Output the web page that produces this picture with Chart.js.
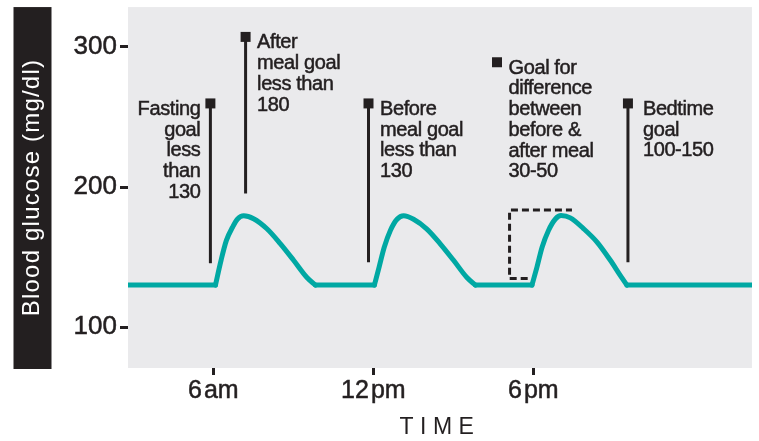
<!DOCTYPE html>
<html>
<head>
<meta charset="utf-8">
<script src="https://cdn.jsdelivr.net/npm/chart.js@4/dist/chart.umd.min.js"></script>
<style>
  html, body { margin: 0; padding: 0; background: #ffffff; }
  #wrap { width: 759px; height: 441px; }
</style>
</head>
<body>
<div id="wrap"><canvas id="c" width="759" height="441"></canvas></div>
<script>
// ---------- data ----------
const xTickHours = [6, 12, 18];
const xTickLabels = ['6\u200Aam', '12\u200Apm', '6\u200Apm'];
const yTickValues = [100, 200, 300];
const yAxisTitle = 'Blood glucose (mg/dl)';
const xAxisTitle = 'TIME';
const baselineValue = 130;

// glucose curve (hour of day, mg/dl)
const glucoseHours = [2.8, 6.08, 6.29, 6.49, 6.72, 6.91, 7.14, 7.51, 8.01, 8.51, 9.01, 9.51, 9.83,
  12.04, 12.22, 12.41, 12.64, 12.89, 13.14, 13.51, 14.01, 14.51, 15.01, 15.51, 15.83,
  17.95, 18.14, 18.33, 18.57, 18.83, 19.04, 19.39, 19.89, 20.39, 20.89, 21.26, 21.51, 26.2];
const glucoseValues = [130, 130, 147.7, 161.9, 171.3, 177.2, 179.5, 177.4, 170.2, 159.6, 147.7, 135.4, 130,
  130, 143, 157, 169, 177, 179.5, 177, 170, 159.5, 147.7, 135.4, 130,
  130, 143, 157, 169, 177.2, 179.6, 178, 170.2, 160.7, 147.7, 137, 130, 130];

// goal markers
const markerHours = [5.89, 7.21, 11.82, 16.64, 21.55];
const markerLow = [145.6, 195.4, 146.3, null, 146.3];
const markerHigh = [259.7, 307.2, 259.7, 289.1, 259.7];
const markerLabels = [
  ['Fasting', 'goal', 'less', 'than', '130'],
  ['After', 'meal goal', 'less than', '180'],
  ['Before', 'meal goal', 'less than', '130'],
  ['Goal for', 'difference', 'between', 'before &', 'after meal', '30-50'],
  ['Bedtime', 'goal', '100-150']
];

// dashed before/after difference bracket
const diffHours = [17.79, 17.11, 17.11, 19.45];
const diffValues = [134.7, 134.7, 183.6, 183.6];

// ---------- styles ----------
const DARK = '#231f20';
const TEAL = '#00a8a3';
const PANEL = '#eaeaec';
const FONT = "'Liberation Sans', Arial, sans-serif";
const labelAlign = ['right', 'left', 'left', 'left', 'left'];
const labelDx = [-10, 11.5, 11.5, 11.5, 15];

// ---------- datasets ----------
const datasets = [];
markerHours.forEach((h, i) => {
  const pts = [];
  if (markerLow[i] !== null) pts.push({ x: h, y: markerLow[i] });
  pts.push({ x: h, y: markerHigh[i] });
  datasets.push({
    data: pts,
    borderColor: DARK,
    backgroundColor: DARK,
    borderWidth: 3,
    showLine: pts.length > 1,
    pointStyle: 'rect',
    pointRadius: pts.map((p, k) => (k === pts.length - 1 ? 7.07 : 0)),
    pointBorderWidth: 0,
    pointBackgroundColor: DARK,
    tension: 0,
    borderCapStyle: 'butt'
  });
});
datasets.push({
  data: diffHours.map((h, i) => ({ x: h, y: diffValues[i] })),
  borderColor: DARK,
  borderWidth: 3,
  borderDash: [7, 4],
  pointRadius: 0,
  tension: 0,
  fill: false
});

// glucose curve: flat runs drawn straight, meal humps drawn as smooth monotone curves
(function () {
  let run = null;
  const flush = () => {
    if (!run) return;
    datasets.push({
      data: run.pts,
      borderColor: TEAL,
      borderWidth: 5,
      pointRadius: 0,
      tension: 0,
      cubicInterpolationMode: run.flat ? 'default' : 'monotone',
      borderJoinStyle: 'round',
      borderCapStyle: 'round',
      fill: false
    });
  };
  for (let i = 0; i < glucoseHours.length - 1; i++) {
    const flat = glucoseValues[i] === baselineValue && glucoseValues[i + 1] === baselineValue;
    const a = { x: glucoseHours[i], y: glucoseValues[i] };
    const b = { x: glucoseHours[i + 1], y: glucoseValues[i + 1] };
    if (!run || run.flat !== flat) {
      flush();
      run = { flat, pts: [a, b] };
    } else {
      run.pts.push(b);
    }
  }
  flush();
})();

// ---------- plugins ----------
const backgroundPlugin = {
  id: 'panels',
  beforeDraw(chart) {
    const { ctx, chartArea } = chart;
    ctx.save();
    ctx.fillStyle = PANEL;
    ctx.fillRect(chartArea.left, chartArea.top, chartArea.right - chartArea.left, chartArea.bottom - chartArea.top);
    ctx.fillStyle = DARK;
    ctx.fillRect(13.5, chartArea.top, 38, chartArea.bottom - chartArea.top + 1);
    ctx.restore();
  }
};

const spacingPlugin = {
  id: 'titleSpacing',
  afterLayout(chart) {
    [['x', '6.5px'], ['y', '1.2px']].forEach(([id, sp]) => {
      const s = chart.scales[id];
      if (s && !s._spPatched) {
        const orig = s.drawTitle.bind(s);
        s.drawTitle = function (area) {
          const c = this.ctx;
          c.save();
          c.letterSpacing = sp;
          orig(area);
          c.restore();
        };
        s._spPatched = true;
      }
    });
  }
};

const labelPlugin = {
  id: 'markerLabels',
  afterDatasetsDraw(chart) {
    const { ctx } = chart;
    const xs = chart.scales.x, ys = chart.scales.y;
    ctx.save();
    ctx.fillStyle = DARK;
    ctx.strokeStyle = DARK;
    ctx.lineWidth = 0.5;
    ctx.font = '20px ' + FONT;
    ctx.letterSpacing = '-0.4px';
    ctx.textBaseline = 'alphabetic';
    markerLabels.forEach((lines, i) => {
      const px = xs.getPixelForValue(markerHours[i]);
      const py = ys.getPixelForValue(markerHigh[i]);
      const top = py - 5;
      ctx.textAlign = labelAlign[i];
      lines.forEach((t, k) => {
        const tx = px + labelDx[i], ty = top + 16.5 + k * 20.7;
        ctx.fillText(t, tx, ty);
        ctx.strokeText(t, tx, ty);
      });
    });
    ctx.restore();
  }
};

// ---------- chart ----------
new Chart(document.getElementById('c'), {
  type: 'line',
  data: { datasets },
  plugins: [backgroundPlugin, spacingPlugin, labelPlugin],
  options: {
    responsive: false,
    animation: false,
    layout: { padding: { top: 6, right: 7, left: 0, bottom: 0 } },
    plugins: { legend: { display: false }, tooltip: { enabled: false } },
    scales: {
      x: {
        type: 'linear',
        min: 2.8,
        max: 26.2,
        afterBuildTicks: (s) => { s.ticks = xTickHours.map(v => ({ value: v })); },
        afterFit: (s) => { s.height = 73; s.paddingLeft = 0; s.paddingRight = 0; },
        ticks: {
          autoSkip: false,
          maxRotation: 0,
          color: DARK,
          padding: 1,
          textStrokeColor: DARK,
          textStrokeWidth: 0.5,
          font: { family: FONT, size: 25 },
          callback: (v) => { const i = xTickHours.indexOf(v); return i >= 0 ? xTickLabels[i] : ''; }
        },
        grid: { drawOnChartArea: false, drawTicks: true, tickLength: 7, tickWidth: 3, tickColor: DARK },
        border: { display: false },
        title: {
          display: true,
          text: xAxisTitle,
          color: DARK,
          font: { family: FONT, size: 23, lineHeight: 1.1 },
          padding: { top: 0, bottom: 1 }
        }
      },
      y: {
        type: 'linear',
        min: 70.8,
        max: 328.5,
        afterBuildTicks: (s) => { s.ticks = yTickValues.map(v => ({ value: v })); },
        afterFit: (s) => { s.width = 128; s.paddingTop = 0; s.paddingBottom = 0; },
        ticks: {
          color: DARK,
          padding: 3,
          textStrokeColor: DARK,
          textStrokeWidth: 0.5,
          font: { family: FONT, size: 26 }
        },
        grid: { drawOnChartArea: false, drawTicks: true, tickLength: 8, tickWidth: 3, tickColor: DARK },
        border: { display: false },
        title: {
          display: true,
          text: yAxisTitle,
          color: '#ffffff',
          font: { family: FONT, size: 24, lineHeight: 1.2 },
          padding: { top: 18, bottom: 0 }
        }
      }
    }
  }
});
</script>
</body>
</html>
